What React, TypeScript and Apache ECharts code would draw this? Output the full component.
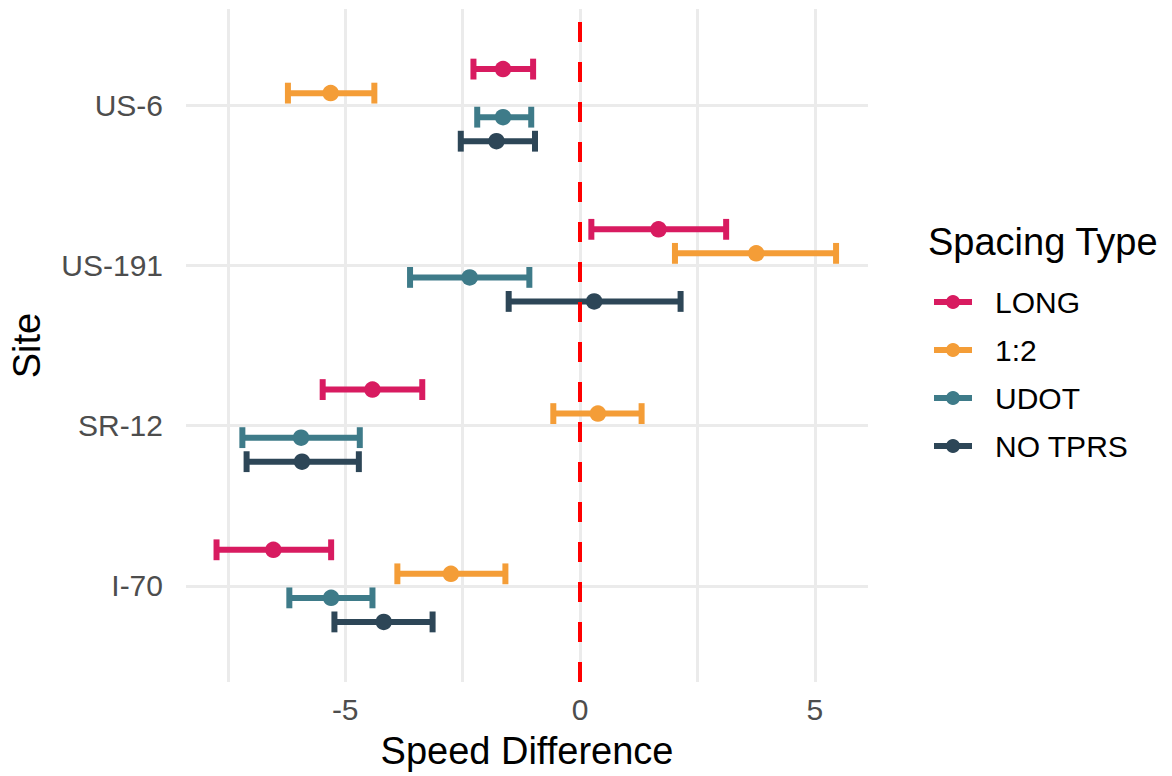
import React, { useEffect, useRef } from 'react';
import * as echarts from 'echarts';

// Sites, bottom to top (y positions 1..4)
const sites = ['I-70', 'SR-12', 'US-191', 'US-6'];
const groups = ['LONG', '1:2', 'UDOT', 'NO TPRS'];
const colors = ['#D81B60', '#F49D37', '#3E7B89', '#2D4657'];

// values ordered as sites: I-70, SR-12, US-191, US-6
const longMean = [-6.53, -4.42, 1.67, -1.64];
const longLow = [-7.74, -5.48, 0.24, -2.27];
const longHigh = [-5.3, -3.36, 3.11, -1.0];

const ratioMean = [-2.75, 0.38, 3.75, -5.31];
const ratioLow = [-3.89, -0.57, 2.02, -6.22];
const ratioHigh = [-1.59, 1.31, 5.45, -4.38];

const udotMean = [-5.3, -5.94, -2.35, -1.64];
const udotLow = [-6.19, -7.19, -3.62, -2.19];
const udotHigh = [-4.42, -4.69, -1.08, -1.04];

const noMean = [-4.18, -5.92, 0.3, -1.78];
const noLow = [-5.23, -7.1, -1.52, -2.54];
const noHigh = [-3.14, -4.71, 2.14, -0.96];

const means = [longMean, ratioMean, udotMean, noMean];
const lows = [longLow, ratioLow, udotLow, noLow];
const highs = [longHigh, ratioHigh, udotHigh, noHigh];

const xLabelTicks = [-5, 0, 5];
const xGridTicks = [-7.5, -5, -2.5, 0, 2.5, 5];
const yTicks = [1, 2, 3, 4];

const FONT = '"Liberation Sans", Arial, Helvetica, sans-serif';
const DODGE_STEP = 0.15;
const CAP_HALF = 0.065;

export default function App() {
  const ref = useRef<HTMLDivElement>(null);

  useEffect(() => {
    document.body.style.margin = '0';
    if (!ref.current) return;
    const chart = echarts.init(ref.current, undefined, { renderer: 'svg' });

    const series: any[] = [];
    groups.forEach((g, gi) => {
      const off = (1.5 - gi) * DODGE_STEP;
      const color = colors[gi];
      series.push({
        name: g + ' range',
        type: 'custom',
        z: 2,
        silent: true,
        encode: { x: [1, 2], y: 0 },
        data: sites.map((_, si) => [si + 1 + off, lows[gi][si], highs[gi][si]]),
        renderItem: (params: any, api: any) => {
          const y = api.value(0) as number;
          const lo = api.value(1) as number;
          const hi = api.value(2) as number;
          const a = api.coord([lo, y]);
          const b = api.coord([hi, y]);
          const t = api.coord([lo, y + CAP_HALF])[1];
          const bt = api.coord([lo, y - CAP_HALF])[1];
          const style = { stroke: color, lineWidth: 6, fill: null, lineCap: 'butt' };
          return {
            type: 'group',
            children: [
              { type: 'line', shape: { x1: a[0], y1: a[1], x2: b[0], y2: b[1] }, style },
              { type: 'line', shape: { x1: a[0], y1: t, x2: a[0], y2: bt }, style },
              { type: 'line', shape: { x1: b[0], y1: t, x2: b[0], y2: bt }, style },
            ],
          };
        },
      });
      series.push({
        name: g,
        type: 'line',
        z: 3,
        symbol: 'circle',
        symbolSize: 16.5,
        showSymbol: true,
        silent: true,
        lineStyle: { width: 0, color },
        itemStyle: { color },
        data: sites.map((_, si) => [means[gi][si], si + 1 + off]),
        markLine:
          gi === groups.length - 1
            ? {
                silent: true,
                symbol: ['none', 'none'],
                label: { show: false },
                lineStyle: { color: '#FF0000', width: 4, type: [20, 20] },
                data: [{ xAxis: 0 }],
              }
            : undefined,
      });
    });

    chart.setOption({
      animation: false,
      textStyle: { fontFamily: FONT },
      grid: { left: 183, right: 304, top: 9, bottom: 94 },
      xAxis: {
        type: 'value',
        min: -8.39,
        max: 6.13,
        axisLine: { show: false },
        axisTick: { show: false, customValues: xGridTicks },
        axisLabel: {
          customValues: xLabelTicks,
          fontSize: 30,
          color: '#4D4D4D',
          margin: 12,
          fontFamily: FONT,
        },
        splitLine: { show: true, lineStyle: { color: '#EBEBEB', width: 3 } },
        name: 'Speed Difference',
        nameLocation: 'middle',
        nameGap: 50,
        nameTextStyle: { fontSize: 38, color: '#000', fontFamily: FONT },
      },
      yAxis: {
        type: 'value',
        min: 0.4,
        max: 4.6,
        axisLine: { show: false },
        axisTick: { show: false, customValues: yTicks },
        axisLabel: {
          customValues: yTicks,
          formatter: (v: number) => sites[Math.round(v) - 1] ?? '',
          fontSize: 30,
          color: '#4D4D4D',
          margin: 23,
          fontFamily: FONT,
        },
        splitLine: { show: true, lineStyle: { color: '#EBEBEB', width: 3 } },
        name: 'Site',
        nameLocation: 'middle',
        nameGap: 140,
        nameRotate: 90,
        nameTextStyle: { fontSize: 38, color: '#000', fontFamily: FONT },
      },
      legend: {
        data: groups,
        orient: 'vertical',
        left: 926,
        top: 282,
        itemWidth: 38,
        itemHeight: 17.5,
        itemGap: 18,
        selectedMode: false,
        lineStyle: { width: 6 },
        textStyle: { fontSize: 30, color: '#000', fontFamily: FONT, padding: [0, 0, 0, 18] },
      },
      graphic: [
        {
          type: 'text',
          x: 928,
          y: 242,
          silent: true,
          style: {
            text: 'Spacing Type',
            fontSize: 38,
            fontFamily: FONT,
            fill: '#000',
            verticalAlign: 'middle',
          },
        },
      ],
      series,
    });

    return () => chart.dispose();
  }, []);

  return (
    <div
      ref={ref}
      style={{ position: 'fixed', left: 0, top: 0, width: 1172, height: 776, background: '#fff' }}
    />
  );
}
